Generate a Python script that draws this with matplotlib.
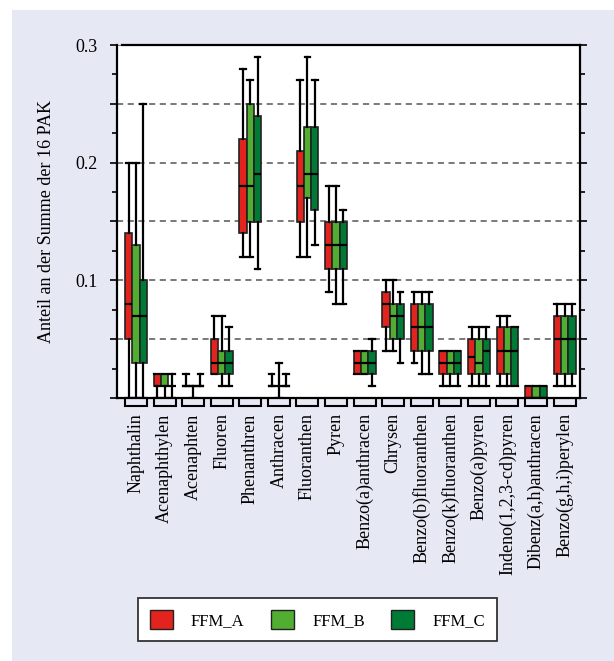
import matplotlib
matplotlib.use("Agg")
import matplotlib.pyplot as plt
import matplotlib.transforms as mtransforms
from matplotlib.patches import Patch, Rectangle
from matplotlib.ticker import MultipleLocator, FuncFormatter

plt.rcParams['font.family'] = ['Liberation Serif', 'DejaVu Serif']

# PAK compounds on the x axis
categories = [
    "Naphthalin", "Acenaphthylen", "Acenaphten", "Fluoren", "Phenanthren",
    "Anthracen", "Fluoranthen", "Pyren", "Benzo(a)anthracen", "Chrysen",
    "Benzo(b)fluoranthen", "Benzo(k)fluoranthen", "Benzo(a)pyren",
    "Indeno(1,2,3-cd)pyren", "Dibenz(a,h)anthracen", "Benzo(g,h,i)perylen",
]

# (whisker low, q1, median, q3, whisker high) per compound
ffm_a = [
    (0.00, 0.05, 0.08, 0.14, 0.20), (0.00, 0.01, 0.01, 0.02, 0.02),
    (0.01, 0.01, 0.01, 0.01, 0.02), (0.02, 0.02, 0.03, 0.05, 0.07),
    (0.12, 0.14, 0.18, 0.22, 0.28), (0.01, 0.01, 0.01, 0.01, 0.02),
    (0.12, 0.15, 0.18, 0.21, 0.27), (0.09, 0.11, 0.13, 0.15, 0.18),
    (0.02, 0.02, 0.03, 0.04, 0.04), (0.04, 0.06, 0.08, 0.09, 0.10),
    (0.03, 0.04, 0.06, 0.08, 0.09), (0.01, 0.02, 0.03, 0.04, 0.04),
    (0.01, 0.02, 0.035, 0.05, 0.06), (0.01, 0.02, 0.04, 0.06, 0.07),
    (0.00, 0.00, 0.00, 0.01, 0.01), (0.01, 0.02, 0.05, 0.07, 0.08),
]
ffm_b = [
    (0.00, 0.03, 0.07, 0.13, 0.20), (0.00, 0.01, 0.01, 0.02, 0.02),
    (0.00, 0.01, 0.01, 0.01, 0.01), (0.01, 0.02, 0.03, 0.04, 0.07),
    (0.12, 0.15, 0.18, 0.25, 0.27), (0.00, 0.01, 0.01, 0.01, 0.03),
    (0.12, 0.17, 0.19, 0.23, 0.29), (0.08, 0.11, 0.13, 0.15, 0.18),
    (0.02, 0.02, 0.03, 0.04, 0.04), (0.04, 0.05, 0.07, 0.08, 0.10),
    (0.02, 0.04, 0.06, 0.08, 0.09), (0.01, 0.02, 0.03, 0.04, 0.04),
    (0.01, 0.02, 0.03, 0.05, 0.06), (0.01, 0.02, 0.04, 0.06, 0.07),
    (0.00, 0.00, 0.00, 0.01, 0.01), (0.01, 0.02, 0.05, 0.07, 0.08),
]
ffm_c = [
    (0.00, 0.03, 0.07, 0.10, 0.25), (0.00, 0.01, 0.01, 0.01, 0.02),
    (0.01, 0.01, 0.01, 0.01, 0.02), (0.01, 0.02, 0.03, 0.04, 0.06),
    (0.11, 0.15, 0.19, 0.24, 0.29), (0.01, 0.01, 0.01, 0.01, 0.02),
    (0.13, 0.16, 0.19, 0.23, 0.27), (0.08, 0.11, 0.13, 0.15, 0.16),
    (0.01, 0.02, 0.03, 0.04, 0.05), (0.03, 0.05, 0.07, 0.08, 0.09),
    (0.02, 0.04, 0.06, 0.08, 0.09), (0.01, 0.02, 0.03, 0.04, 0.04),
    (0.01, 0.02, 0.04, 0.05, 0.06), (0.01, 0.01, 0.04, 0.06, 0.06),
    (0.00, 0.00, 0.00, 0.01, 0.01), (0.01, 0.02, 0.05, 0.07, 0.08),
]

series_names = ["FFM_A", "FFM_B", "FFM_C"]
series_data = [ffm_a, ffm_b, ffm_c]
series_colors = ["#E3241E", "#52AE32", "#007B36"]

fig = plt.figure(figsize=(6.14, 6.61), dpi=100, facecolor="white")
# lavender page behind the chart
fig.patches.append(Rectangle((12 / 614, 0), 1, 651 / 661, transform=fig.transFigure,
                             facecolor="#E6E8F4", edgecolor="none", zorder=-10))

ax = fig.add_axes([117 / 614, 1 - 398 / 661, 463 / 614, 353 / 661])
ax.set_facecolor("white")

box_w = 0.255
offsets = [-box_w, 0.0, box_w]
for name, data, color, off in zip(series_names, series_data, series_colors, offsets):
    stats = [dict(whislo=lo, q1=q1, med=med, q3=q3, whishi=hi, fliers=[])
             for lo, q1, med, q3, hi in data]
    pos = [i + off for i in range(len(categories))]
    ax.bxp(stats, positions=pos, widths=box_w, capwidths=0.2, patch_artist=True,
           showfliers=False, manage_ticks=False,
           boxprops=dict(facecolor=color, edgecolor="#222222", linewidth=1.2),
           medianprops=dict(color="black", linewidth=1.6),
           whiskerprops=dict(color="black", linewidth=1.6),
           capprops=dict(color="black", linewidth=1.6))

ax.set_xlim(-0.665, 15.54)
ax.set_ylim(0, 0.3)

# y axis: ticks every 0.025, dashed grid every 0.05, labels at 0.1 steps
ax.yaxis.set_major_locator(MultipleLocator(0.05))
ax.yaxis.set_minor_locator(MultipleLocator(0.025))
ax.yaxis.set_major_formatter(FuncFormatter(
    lambda v, p: f"{v:.1f}" if v > 0.01 and abs(v * 10 - round(v * 10)) < 1e-6 else ""))
ax.tick_params(axis="y", which="major", length=5, width=1.2, direction="out",
               right=True, labelsize=13, pad=9)
ax.tick_params(axis="y", which="minor", length=3.6, width=1.2, direction="out", right=True)
ax.grid(axis="y", which="major", linestyle=(0, (4, 3)), color="#555555", linewidth=1.1)
ax.set_axisbelow(True)

ax.set_xticks(range(len(categories)))
ax.set_xticklabels(categories, rotation=90, fontsize=13)
ax.tick_params(axis="x", length=0, pad=11)

for side in ["left", "right", "top", "bottom"]:
    ax.spines[side].set_linewidth(1.6)
ax.spines["top"].set_bounds(-0.49, 15.54)

ax.set_ylabel("Anteil an der Summe der 16 PAK", fontsize=13)
ax.yaxis.set_label_coords(-0.134, 0.5)

# bracket under each compound group
trans = mtransforms.blended_transform_factory(ax.transData, ax.transAxes)
y_top, y_bot = -1.5 / 353, -7.5 / 353
for i in range(len(categories)):
    ax.plot([i - 0.385, i - 0.385, i + 0.385, i + 0.385], [y_top, y_bot, y_bot, y_top],
            color="black", linewidth=1.5, transform=trans, clip_on=False,
            solid_joinstyle="miter")

handles = [Patch(facecolor=c, edgecolor="#222222", linewidth=1.0) for c in series_colors]
leg = fig.legend(handles, series_names, loc="center", bbox_to_anchor=(0.517, 0.0628),
                 ncol=3, frameon=True, fancybox=False, edgecolor="#333333", framealpha=1,
                 handlelength=1.35, handleheight=1.35, handletextpad=1.1,
                 columnspacing=1.6, borderpad=0.75, fontsize=12)
leg.get_frame().set_linewidth(1.3)

fig.savefig("out.png", dpi=100, facecolor=fig.get_facecolor())
